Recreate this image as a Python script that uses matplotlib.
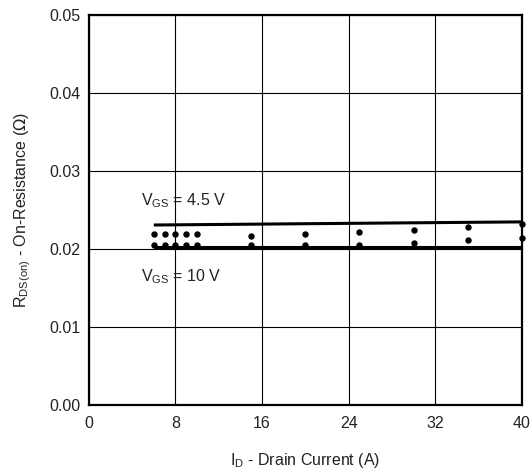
import numpy as np
import matplotlib.pyplot as plt

plt.rcParams['font.family'] = ['Liberation Sans', 'DejaVu Sans']

# measured points
id_pts = [6, 7, 8, 9, 10, 15, 20, 25, 30, 35, 40]
r_45v_pts = [0.0220, 0.0220, 0.0220, 0.0220, 0.0220, 0.0217, 0.0220, 0.0222, 0.0224, 0.0229, 0.0232]
r_10v_pts = [0.02055, 0.02055, 0.02055, 0.02055, 0.02055, 0.0205, 0.0205, 0.0206, 0.0208, 0.0212, 0.0214]

# typical curves
id_line = [6, 40]
r_45v_line = [0.0231, 0.0235]
r_10v_line = [0.0203, 0.0203]

fig = plt.figure(figsize=(5.32, 4.75), dpi=100)
ax = fig.add_axes([0.167, 0.147, 0.814, 0.821])

ax.plot(id_line, r_45v_line, color='black', lw=2.2, solid_capstyle='butt')
ax.plot(id_line, r_10v_line, color='black', lw=2.2, solid_capstyle='butt')
ax.plot(id_pts, r_45v_pts, 'o', color='black', ms=3.6, clip_on=False)
ax.plot(id_pts, r_10v_pts, 'o', color='black', ms=3.6, clip_on=False)

ax.text(4.8, 0.0262, r'V$_{\mathregular{GS}}$ = 4.5 V', fontsize=11.5, va='center', color='#222222')
ax.text(4.8, 0.0165, r'V$_{\mathregular{GS}}$ = 10 V', fontsize=11.5, va='center', color='#222222')

ax.set_xlim(0, 40)
ax.set_ylim(0, 0.05)
ax.set_xticks([0, 8, 16, 24, 32, 40])
ax.set_yticks([0.00, 0.01, 0.02, 0.03, 0.04, 0.05])
ax.set_yticklabels(['0.00', '0.01', '0.02', '0.03', '0.04', '0.05'])
ax.tick_params(length=0, labelsize=11.5, labelcolor='#222222')
ax.tick_params(axis='y', pad=6)
ax.tick_params(axis='x', pad=8)
ax.grid(True, color='black', lw=0.8)
for s in ax.spines.values():
    s.set_linewidth(1.6)

ax.set_xlabel(r'I$_{\mathregular{D}}$ - Drain Current (A)', fontsize=11.5, labelpad=14, color='#222222')
ax.set_ylabel(r'R$_{\mathregular{DS(on)}}$ - On-Resistance ($\Omega$)', fontsize=11.5, labelpad=12, color='#222222')

fig.savefig('out.png', dpi=100)
